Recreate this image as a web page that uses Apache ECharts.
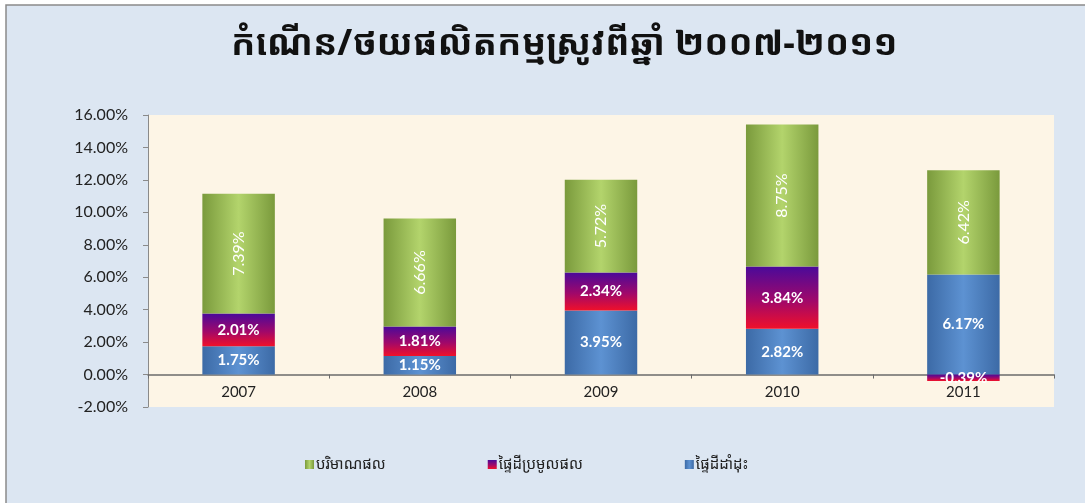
<!DOCTYPE html>
<html>
<head>
<meta charset="utf-8">
<script src="https://cdn.jsdelivr.net/npm/echarts@6/dist/echarts.min.js"></script>
<style>
html,body{margin:0;padding:0;background:#ffffff;}
#c{width:1085px;height:503px;}
</style>
</head>
<body>
<div id="c"></div>
<script>
const titleText = 'កំណើន/ថយផលិតកម្មស្រូវពីឆ្នាំ ២០០៧-២០១១';
const categories = ['2007', '2008', '2009', '2010', '2011'];
const seriesNames = ['ផ្ទៃដីដាំដុះ', 'ផ្ទៃដីប្រមូលផល', 'បរិមាណផល'];
const plantedArea = [1.75, 1.15, 3.95, 2.82, 6.17];
const harvestedArea = [2.01, 1.81, 2.34, 3.84, -0.39];
const production = [7.39, 6.66, 5.72, 8.75, 6.42];
const yMin = -2, yMax = 16, yStep = 2;

const khmerFont = '"Noto Sans Khmer", "Khmer OS", "DejaVu Sans", "Noto Sans", sans-serif';
const numFont = 'Lato, "Open Sans", sans-serif';

function hGrad(edge, mid) {
  return new echarts.graphic.LinearGradient(0, 0, 1, 0, [
    {offset: 0, color: edge}, {offset: 0.5, color: mid}, {offset: 1, color: edge}
  ]);
}

const chart = echarts.init(document.getElementById('c'));
chart.setOption({
  backgroundColor: '#ffffff',
  animation: false,
  graphic: [
    {type: 'rect', z: -10, shape: {x: 6, y: 5, width: 1200, height: 600},
     style: {fill: '#dce6f2', stroke: '#8a8a8a', lineWidth: 1.5}}
  ],
  title: {
    text: titleText, left: 226, top: 22,
    textStyle: {fontFamily: khmerFont, fontSize: 36, fontWeight: 'bold', color: '#111'}
  },
  legend: {
    data: [seriesNames[2], seriesNames[1], seriesNames[0]],
    left: 300, top: 452, itemWidth: 9, itemHeight: 9, itemGap: 102,
    icon: 'rect',
    textStyle: {fontFamily: khmerFont, fontSize: 15, color: '#222', padding: [0, 0, 0, -3]}
  },
  grid: {
    left: 148, right: 31, top: 115, bottom: 96,
    show: true, backgroundColor: '#fdf5e6', borderWidth: 0
  },
  xAxis: {
    type: 'category', data: categories,
    axisLine: {onZero: true, lineStyle: {color: '#6b6b6b', width: 1.5}},
    axisTick: {show: true, length: 4, lineStyle: {color: '#6b6b6b'}},
    axisLabel: {fontFamily: numFont, fontSize: 15, color: '#222', margin: -22}
  },
  yAxis: {
    type: 'value', min: yMin, max: yMax, interval: yStep,
    splitLine: {show: false},
    axisLine: {show: true, lineStyle: {color: '#8a8a8a'}},
    axisTick: {show: true, length: 5, lineStyle: {color: '#8a8a8a'}},
    axisLabel: {fontFamily: numFont, fontSize: 16, color: '#222', margin: 20,
      formatter: v => v.toFixed(2) + '%'}
  },
  series: [
    {
      name: seriesNames[0], type: 'bar', stack: 't', barWidth: '40%', data: plantedArea,
      itemStyle: {color: hGrad('#3c6aa6', '#5d92d2')},
      label: {show: true, position: 'inside', formatter: p => p.value.toFixed(2) + '%',
        fontFamily: numFont, fontSize: 15, fontWeight: 'bold', color: '#fff'}
    },
    {
      name: seriesNames[1], type: 'bar', stack: 't', data: harvestedArea,
      itemStyle: {color: new echarts.graphic.LinearGradient(0, 0, 0, 1, [
        {offset: 0, color: '#4a0a9a'}, {offset: 0.55, color: '#a0086a'}, {offset: 1, color: '#f0102a'}
      ])},
      label: {show: true, position: 'inside', formatter: p => p.value.toFixed(2) + '%',
        fontFamily: numFont, fontSize: 15, fontWeight: 'bold', color: '#fff'}
    },
    {
      name: seriesNames[2], type: 'bar', stack: 't', data: production,
      itemStyle: {color: hGrad('#7a9a3c', '#b3d46c')},
      label: {show: true, position: 'inside', rotate: 90, formatter: p => p.value.toFixed(2) + '%',
        fontFamily: numFont, fontSize: 16, color: '#fff'}
    }
  ]
});
</script>
</body>
</html>
